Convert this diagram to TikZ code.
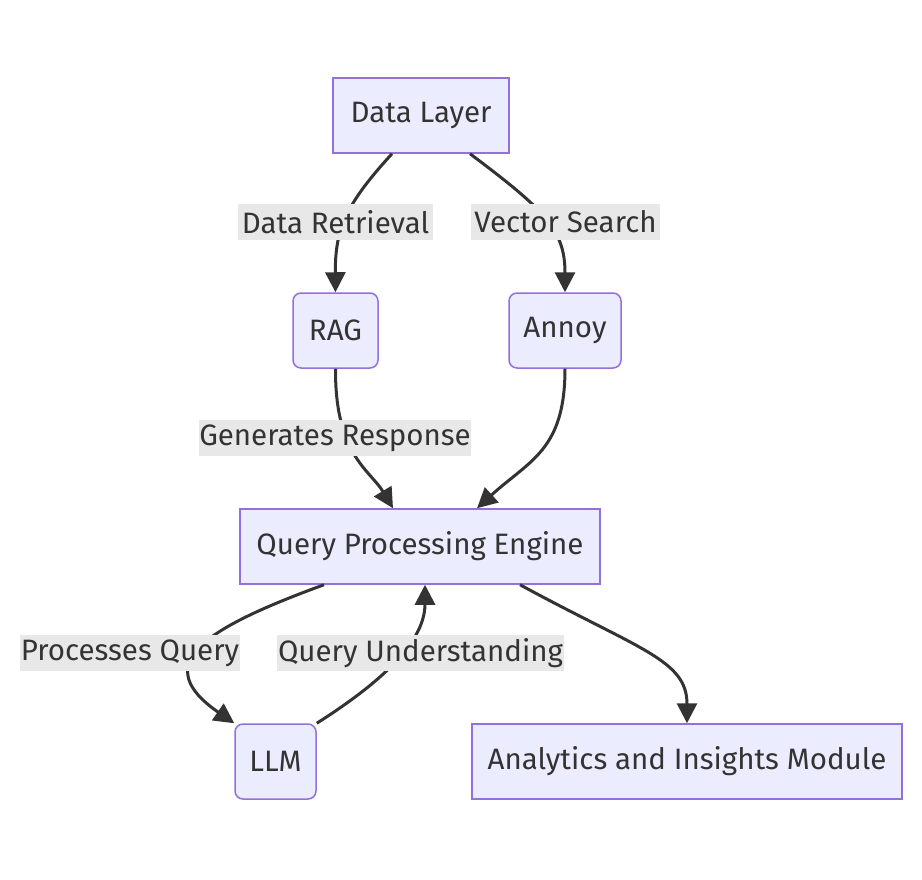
\documentclass[tikz,border=0pt]{standalone}
\usepackage{fontspec}
\setmainfont{Fira Sans}
\usetikzlibrary{arrows.meta}
\definecolor{mmfill}{HTML}{ECECFF}
\definecolor{mmborder}{HTML}{9370DB}
\definecolor{mmlabel}{HTML}{E8E8E8}
\definecolor{mmline}{HTML}{333333}
\tikzset{
  box/.style={draw=mmborder,fill=mmfill,line width=1.5pt,minimum height=75pt,
    inner sep=0pt,text=mmline,font=\fontsize{29.5}{34}\selectfont},
  rbox/.style={box,rounded corners=8pt},
  lbl/.style={fill=mmlabel,inner sep=0pt,minimum height=36pt,text=mmline,
    font=\fontsize{29.5}{34}\selectfont},
  arr/.style={-{Triangle[length=20pt,width=20pt]},line width=3pt,draw=mmline},
}
\begin{document}
\begin{tikzpicture}[x=1pt,y=-1pt]
      \fill[white](0,0)rectangle(922,880);
      \useasboundingbox(0,0)rectangle(922,880);
      \node[box,minimum width=176pt](DL) at (421,115.5) {Data Layer};
      \node[rbox,minimum width=85pt](RAG) at (335.5,330.5) {RAG};
      \node[rbox,minimum width=112pt](ANN) at (565,330.5) {Annoy};
      \node[box,minimum width=360pt](QPE) at (420,546.5) {Query Processing Engine};
      \node[rbox,minimum width=81pt](LLM) at (275.5,761.5) {LLM};
      \node[box,minimum width=430pt](AIM) at (687,761.5) {Analytics and Insights Module};
      % connectors
      \draw[arr]([xshift=-29pt]DL.south) .. controls (345,205) and (335,230) .. (RAG.north);
      \draw[arr]([xshift=49pt]DL.south) .. controls (545,210) and (565,230) .. (ANN.north);
      \draw[arr](RAG.south) .. controls (335,455) and (370,470) .. ([xshift=-27pt]QPE.north);
      \draw[arr](ANN.south) .. controls (565,450) and (530,460) .. ([xshift=57pt]QPE.north);
      \draw[arr]([xshift=-96pt]QPE.south) .. controls (200,630) and (150,665) .. (LLM.north west);
      \draw[arr](LLM.north east) .. controls (385,680) and (425,640) .. ([xshift=5pt]QPE.south);
      \draw[arr]([xshift=100pt]QPE.south) .. controls (640,650) and (687,660) .. (AIM.north);
      % edge labels
      \foreach \n/\x/\y/\w/\t in{LDR/335.5/222/195/Data Retrieval,LVS/565.5/222/189/Vector Search,
        LGR/335/438/272/Generates Response,LPQ/130/653/220/Processes Query,
        LQU/420.5/653/287/Query Understanding}{
        \node[lbl,minimum width=\w pt](\n) at (\x,\y) {\t};
      }
    \end{tikzpicture}
\end{document}
